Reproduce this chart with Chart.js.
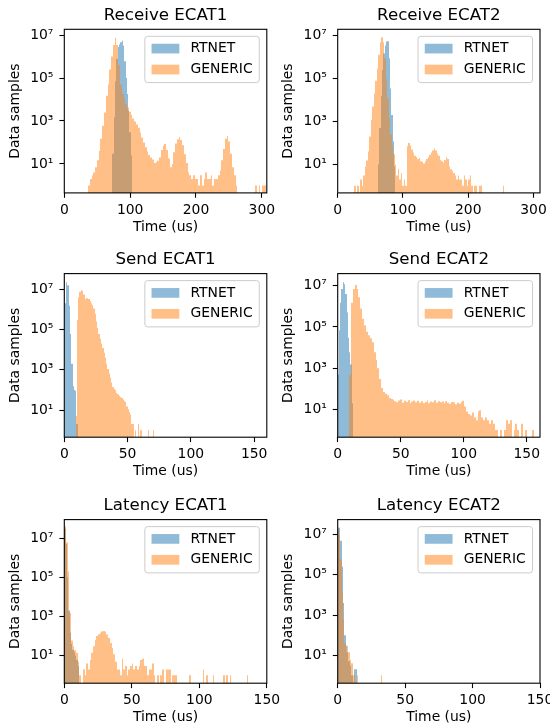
<!DOCTYPE html>
<html>
<head>
<meta charset="utf-8">
<script src="https://cdn.jsdelivr.net/npm/chart.js@4.4.1/dist/chart.umd.min.js"></script>
<style>
html,body{margin:0;padding:0;background:#fff;width:550px;height:728px;overflow:hidden;position:relative}
canvas{position:absolute;left:0;top:0}
</style>
</head>
<body>
<canvas id="c0" width="560" height="740"></canvas>
<canvas id="c1" width="560" height="740"></canvas>
<canvas id="c2" width="560" height="740"></canvas>
<canvas id="c3" width="560" height="740"></canvas>
<canvas id="c4" width="560" height="740"></canvas>
<canvas id="c5" width="560" height="740"></canvas>
<script>
// ---------------- DATA ----------------
const seriesLabels = ['RTNET', 'GENERIC'];
const panelTitles = ['Receive ECAT1', 'Receive ECAT2', 'Send ECAT1', 'Send ECAT2', 'Latency ECAT1', 'Latency ECAT2'];
const xAxisLabel = 'Time (us)';
const yAxisLabel = 'Data samples';
const yTickValues = [1e1, 1e3, 1e5, 1e7];
const yTickLabels = ['10\u00B9', '10\u00B3', '10\u2075', '10\u2077'];
const xTicksReceive = [0, 100, 200, 300];
const xTicksOther = [0, 50, 100, 150];

// histogram bins: first bin edge (us), bin width (us), counts per bin
const recv1RtnetStart = 73, recv1RtnetWidth = 2;
const recv1Rtnet = [30, 1500, 70000, 800000, 2800000, 3600000, 4600000, 5500000, 3200000, 600000,
  100000, 18000, 3000, 300, 25];
const recv1GenericStart = 36, recv1GenericWidth = 2.7;
const recv1Generic = [1, 2, 3, 4, 7, 15, 40, 150, 600, 2500,
  15000, 50000, 250000, 1000000, 3500000, 7500000, 3500000, 400000, 50000, 18000,
  11000, 6000, 4200, 2700, 1900, 1300, 950, 680, 480, 280,
  170, 100, 60, 38, 26, 20, 16, 11, 12, 14,
  20, 45, 70, 85, 45, 18, 7, 10, 35, 90,
  140, 180, 130, 75, 28, 11, 4, 3, 2, 3,
  2, 2, 1, 3, 1, 2, 4, 2, 2, 3,
  1, 2, 2, 3, 5, 15, 50, 150, 200, 110,
  30, 7, 3, 1, 0, 0, 0, 0, 0, 0,
  0, 0, 0, 0, 1, 0, 1, 0, 1, 1];

const recv2RtnetStart = 62, recv2RtnetWidth = 2;
const recv2Rtnet = [10, 500, 15000, 250000, 1500000, 3500000, 5400000, 5500000, 900000, 35000,
  2000, 120, 8];
const recv2GenericStart = 25, recv2GenericWidth = 2.3;
const recv2Generic = [1, 0, 1, 0, 2, 1, 3, 8, 15, 40,
  200, 1200, 5000, 20000, 80000, 300000, 1300000, 5000000, 8500000, 5000000,
  900000, 100000, 12000, 1500, 250, 80, 30, 10, 3, 6,
  2, 4, 1, 2, 1, 70, 100, 75, 50, 35,
  25, 22, 18, 20, 14, 13, 11, 14, 18, 22,
  28, 36, 45, 55, 45, 32, 25, 16, 14, 12,
  16, 22, 18, 8, 6, 5, 4, 3, 2, 3,
  2, 2, 1, 3, 2, 1, 2, 3, 1, 0,
  1, 1, 0, 1, 1, 0, 0, 0, 0, 0,
  0, 0, 0, 0, 0, 0, 0, 0, 0, 1];

const send1RtnetStart = 0.5, send1RtnetWidth = 1;
const send1Rtnet = [2000000, 22000000, 16000000, 1500000, 60000, 2000, 150, 100, 90, 2];
const send1GenericStart = 9, send1GenericWidth = 1;
const send1Generic = [5, 300000, 4000000, 7500000, 9000000, 8500000, 5500000, 3300000, 3500000, 3700000,
  3300000, 2600000, 2000000, 1600000, 1100000, 600000, 250000, 120000, 60000, 35000,
  20000, 12000, 7000, 4000, 2000, 1100, 650, 400, 230, 140,
  110, 95, 70, 60, 50, 45, 40, 33, 28, 25,
  15, 11, 8, 6, 2, 2, 0, 1, 0, 2,
  0, 1, 0, 0, 0, 0, 0, 1, 0, 0,
  0, 1];

const send2RtnetStart = 0, send2RtnetWidth = 1;
const send2Rtnet = [500, 70000, 1500000, 7000000, 15000000, 12000000, 4000000, 500000, 30000, 6000, 1500, 20];
const send2GenericStart = 9, send2GenericWidth = 1.5;
const send2Generic = [450, 1500000, 7000000, 11000000, 7000000, 2800000, 800000, 250000, 120000, 58000,
  40000, 28000, 18000, 6000, 2500, 1000, 300, 110, 70, 58,
  48, 36, 32, 29, 25, 22, 27, 30, 21, 26,
  23, 28, 20, 24, 27, 22, 26, 21, 25, 20,
  23, 27, 20, 24, 22, 28, 21, 25, 22, 24,
  20, 25, 21, 19, 23, 22, 18, 21, 19, 23,
  26, 14, 8, 6, 5, 7, 4, 3, 8, 9,
  4, 3, 4, 3, 2, 3, 2, 1, 1, 0,
  1, 0, 1, 3, 2, 3, 0, 1, 2, 1,
  0, 2, 0, 1, 0, 0, 0, 1];

const lat1RtnetStart = 0, lat1RtnetWidth = 1;
const lat1Rtnet = [30000000, 5000000, 100000, 2000, 150, 40, 20, 15, 10, 6, 3];
const lat1GenericStart = 0, lat1GenericWidth = 1.25;
const lat1Generic = [40000000, 6000000, 200000, 1500, 60, 30, 19, 14, 5, 1,
  0, 2, 1, 4, 2, 6, 14, 30, 65, 100,
  125, 150, 170, 180, 165, 120, 80, 45, 25, 12,
  5, 2, 2, 1, 7, 2, 3, 1, 2, 3,
  4, 2, 3, 2, 3, 6, 7, 3, 3, 1,
  2, 2, 4, 1, 0, 1, 0, 1, 2, 0,
  2, 2, 2, 0, 1, 1, 1, 0, 0, 0,
  0, 0, 0, 0, 1, 0, 0, 0, 0, 0,
  0, 0, 2, 0, 1, 0, 0, 0, 1, 0,
  0, 0, 0, 0, 1, 0, 1, 0, 1, 0,
  0, 0, 0, 0, 0, 0, 0, 0, 1, 0];

const lat2RtnetStart = 0, lat2RtnetWidth = 1;
const lat2Rtnet = [20000000, 22000000, 5000000, 250000, 4000, 100, 30, 14, 5, 3, 1, 0, 2, 2];
const lat2GenericStart = 0, lat2GenericWidth = 1;
const lat2Generic = [23000000, 9000000, 600000, 13000, 600, 40, 14, 30, 14, 6,
  4, 1, 1, 0, 1, 0, 0, 0, 0, 0,
  0, 0, 0, 0, 0, 0, 0, 0, 0, 0,
  0, 0, 1];

// axis ranges per panel
const xMaxes = [307.6, 310, 160, 160.5, 150, 150];
const yMins = [0.447, 0.468, 0.447, 0.447, 0.398, 0.407];
const yMaxes = [1.86e7, 2.0e7, 6.0e7, 3.9e7, 8.7e7, 5.6e7];

// ---------------- STYLE / LAYOUT ----------------
const FONT = "'DejaVu Sans', 'Liberation Sans', sans-serif";
const seriesColors = ['rgba(31,119,180,0.5)', 'rgba(255,127,14,0.5)'];
const COL_LEFT = [64.3, 337.7], COL_RIGHT = [266.8, 540];
const ROW_TOP = [29.3, 273.6, 519.6], PLOT_H = 163.6;
const CW = 560, CH = 740;
const Y_AXIS_W = 60, X_AXIS_H = 44, TITLE_H = 24.1;

function toBars(start, width, counts) {
  return counts.map((c, i) => ({ x: start + width * (i + 0.5), y: c > 0 ? c : null }));
}

const panels = [
  { rt: toBars(recv1RtnetStart, recv1RtnetWidth, recv1Rtnet), gen: toBars(recv1GenericStart, recv1GenericWidth, recv1Generic), xTicks: xTicksReceive },
  { rt: toBars(recv2RtnetStart, recv2RtnetWidth, recv2Rtnet), gen: toBars(recv2GenericStart, recv2GenericWidth, recv2Generic), xTicks: xTicksReceive },
  { rt: toBars(send1RtnetStart, send1RtnetWidth, send1Rtnet), gen: toBars(send1GenericStart, send1GenericWidth, send1Generic), xTicks: xTicksOther },
  { rt: toBars(send2RtnetStart, send2RtnetWidth, send2Rtnet), gen: toBars(send2GenericStart, send2GenericWidth, send2Generic), xTicks: xTicksOther },
  { rt: toBars(lat1RtnetStart, lat1RtnetWidth, lat1Rtnet), gen: toBars(lat1GenericStart, lat1GenericWidth, lat1Generic), xTicks: xTicksOther },
  { rt: toBars(lat2RtnetStart, lat2RtnetWidth, lat2Rtnet), gen: toBars(lat2GenericStart, lat2GenericWidth, lat2Generic), xTicks: xTicksOther }
];

const frameLegendPlugin = {
  id: 'frameLegend',
  // snap bar edges to whole pixels so adjacent semi-transparent bins do not leave seams
  beforeDatasetsDraw(chart) {
    chart.getSortedVisibleDatasetMetas().forEach(meta => {
      meta.data.forEach(el => {
        if (!isFinite(el.x) || !isFinite(el.width)) return;
        const l = Math.round(el.x - el.width / 2), r = Math.round(el.x + el.width / 2);
        el.x = (l + r) / 2;
        el.width = r - l;
      });
    });
  },
  afterDatasetsDraw(chart) {
    const { ctx, chartArea: a } = chart;
    ctx.save();
    ctx.strokeStyle = '#000';
    ctx.lineWidth = 1.1;
    ctx.strokeRect(a.left, a.top, a.right - a.left, a.bottom - a.top);
    // legend (upper right, framed)
    const fs = 13.9;
    ctx.font = fs + 'px ' + FONT;
    const ds = chart.data.datasets;
    const textW = Math.max(...ds.map(d => ctx.measureText(d.label).width));
    const pad = 6.7, hw = 27.8, hh = 9.7, gap = 11.1;
    const w = pad + hw + gap + textW + pad, h = 46.3;
    const right = a.right - 7.5, top = a.top + 7, left = right - w;
    ctx.beginPath();
    ctx.roundRect(left, top, w, h, 2.8);
    ctx.fillStyle = 'rgba(255,255,255,0.8)';
    ctx.fill();
    ctx.strokeStyle = '#cccccc';
    ctx.lineWidth = 1;
    ctx.stroke();
    ds.forEach((d, i) => {
      const cy = top + 12.3 + i * 20.9;
      ctx.fillStyle = d.backgroundColor;
      ctx.fillRect(left + pad, cy - hh / 2, hw, hh);
      ctx.fillStyle = '#000';
      ctx.textBaseline = 'middle';
      ctx.textAlign = 'left';
      ctx.fillText(d.label, left + pad + hw + gap, cy);
    });
    ctx.restore();
  }
};

panels.forEach((p, k) => {
  const r = Math.floor(k / 2), c = k % 2;
  const left = COL_LEFT[c], right = COL_RIGHT[c], top = ROW_TOP[r], bottom = top + PLOT_H;
  const gridOpts = { display: true, drawOnChartArea: false, drawTicks: true, tickLength: 4.9, tickColor: '#000', tickWidth: 1.1, color: '#000', offset: false };
  new Chart(document.getElementById('c' + k), {
    type: 'bar',
    data: {
      datasets: [
        { label: seriesLabels[0], data: p.rt, xAxisID: 'x2', backgroundColor: seriesColors[0], order: 1 },
        { label: seriesLabels[1], data: p.gen, xAxisID: 'x', backgroundColor: seriesColors[1], order: 0 }
      ]
    },
    options: {
      responsive: false,
      animation: false,
      events: [],
      layout: { padding: { left: left - Y_AXIS_W, right: CW - right, top: top - TITLE_H, bottom: CH - bottom - X_AXIS_H } },
      datasets: { bar: { grouped: false, barPercentage: 1, categoryPercentage: 1, borderWidth: 0, inflateAmount: 0 } },
      plugins: {
        legend: { display: false },
        tooltip: { enabled: false },
        title: {
          display: true, text: panelTitles[k], color: '#000', fullSize: false,
          font: { family: FONT, size: 16.67, weight: 'normal' },
          padding: { top: 0, bottom: 4.1 }
        }
      },
      scales: {
        x: {
          type: 'linear', position: 'bottom', min: 0, max: xMaxes[k], offset: false,
          afterFit: s => { s.height = X_AXIS_H; },
          afterBuildTicks: s => { s.ticks = p.xTicks.map(v => ({ value: v })); },
          grid: gridOpts,
          border: { display: false },
          ticks: { color: '#000', font: { family: FONT, size: 13.9 }, padding: 4.3, maxRotation: 0, autoSkip: false, callback: v => String(v) },
          title: { display: true, text: xAxisLabel, color: '#000', font: { family: FONT, size: 13.9 }, padding: { top: 0, bottom: 1.36 } }
        },
        x2: {
          type: 'linear', axis: 'x', position: 'bottom', display: false, min: 0, max: xMaxes[k], offset: false,
          grid: { offset: false }
        },
        y: {
          type: 'logarithmic', position: 'left', min: yMins[k], max: yMaxes[k],
          afterFit: s => { s.width = Y_AXIS_W; },
          afterBuildTicks: s => { s.ticks = yTickValues.map(v => ({ value: v })); },
          grid: gridOpts,
          border: { display: false },
          ticks: {
            color: '#000', font: { family: FONT, size: 13.9 }, padding: 6, autoSkip: false, major: { enabled: false },
            callback: v => { const i = yTickValues.indexOf(v); return i >= 0 ? yTickLabels[i] : ''; }
          },
          title: { display: true, text: yAxisLabel, color: '#000', font: { family: FONT, size: 13.9 }, padding: { top: 2.66, bottom: 0 } }
        }
      }
    },
    plugins: [frameLegendPlugin]
  });
});
</script>
</body>
</html>
